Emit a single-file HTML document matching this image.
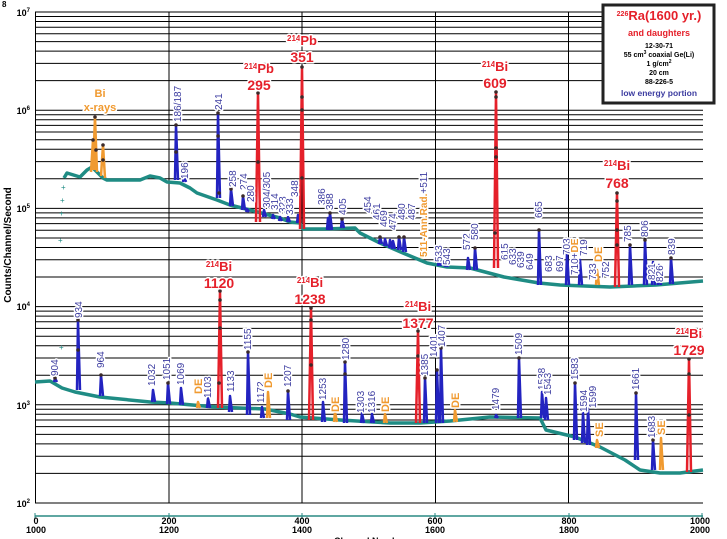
<!DOCTYPE html>
<html><head><meta charset="utf-8"><style>
html,body{margin:0;padding:0;background:#fff;width:727px;height:539px;overflow:hidden}
svg{display:block}
</style></head><body>
<svg width="727" height="539" viewBox="0 0 727 539" xmlns="http://www.w3.org/2000/svg" font-family="Liberation Sans, sans-serif">
<rect width="727" height="539" fill="#fff"/>
<g stroke="#000" stroke-width="1" fill="none">
<path d="M35 503H703M35 473.4H703M35 456.2H703M35 443.9H703M35 434.4H703M35 426.6H703M35 420H703M35 414.3H703M35 409.3H703M35 404.8H703
M35 375.2H703M35 358H703M35 345.7H703M35 336.2H703M35 328.4H703M35 321.8H703M35 316.1H703M35 311.1H703M35 306.6H703
M35 277H703M35 259.8H703M35 247.5H703M35 238H703M35 230.2H703M35 223.6H703M35 217.9H703M35 212.9H703M35 208.4H703
M35 178.8H703M35 161.6H703M35 149.3H703M35 139.8H703M35 132H703M35 125.4H703M35 119.7H703M35 114.7H703M35 110.2H703
M35 80.6H703M35 63.4H703M35 51.1H703M35 41.6H703M35 33.8H703M35 27.2H703M35 21.5H703M35 16.5H703M35 12H703"/>
<path d="M35.5 12V503M169 12V503M302 12V503M435.5 12V503M568.5 12V503"/>
</g>
<line x1="35" y1="516" x2="703" y2="516" stroke="#2a8a84" stroke-width="1.5"/>
<g stroke="#2a8a84" stroke-width="1"><path d="M35 513V519M169 513V519M302 513V519M435 513V519M569 513V519M702 513V519"/></g>
<g font-size="9" font-weight="bold" text-anchor="middle" fill="#000">
<text x="36" y="524">0</text><text x="36" y="533">1000</text>
<text x="169" y="524">200</text><text x="169" y="533">1200</text>
<text x="302" y="524">400</text><text x="302" y="533">1400</text>
<text x="435" y="524">600</text><text x="435" y="533">1600</text>
<text x="569" y="524">800</text><text x="569" y="533">1800</text>
<text x="700" y="524">1000</text><text x="700" y="533">2000</text>
<text x="370" y="544">Channel Number</text>
</g>
<g font-size="9" font-weight="bold" fill="#000" text-anchor="end">
<text x="30" y="16">10<tspan font-size="6" dy="-4">7</tspan></text>
<text x="30" y="114">10<tspan font-size="6" dy="-4">6</tspan></text>
<text x="30" y="212">10<tspan font-size="6" dy="-4">5</tspan></text>
<text x="30" y="310">10<tspan font-size="6" dy="-4">4</tspan></text>
<text x="30" y="409">10<tspan font-size="6" dy="-4">3</tspan></text>
<text x="30" y="507">10<tspan font-size="6" dy="-4">2</tspan></text>
</g>
<text transform="translate(11,245) rotate(-90)" font-size="10" font-weight="bold" text-anchor="middle">Counts/Channel/Second</text>
<text x="2" y="7" font-size="8" font-weight="bold">8</text>

<g fill="none" stroke="#1f8c84" stroke-width="3.5" stroke-linejoin="round">
<polyline points="64,178 67,173 80,177 87,170 92,167 97,172 103,178 107,180 120,180 140,180 150,176 160,178 167,182 180,183 190,188 197,193 217,200 230,205 250,210 280,218 290,222 300,223 303,229 325,229 355,228 360,233 380,243 403,253 427,263 447,267 470,268 504,277 539,283 560,285 610,287 656,285 703,281"/>
<polyline points="35,382 50,381 62,388 75,392 100,397 150,402 170,403 215,407 265,409 290,414 300,417 340,420 390,423 420,423 450,421 490,417 540,418 546,430 575,437 600,447 625,460 640,470 660,473 680,473 703,470"/>
</g>
<g fill="#1f8c84" font-size="8"><text x="58" y="243">+</text><text x="59" y="216">+</text><text x="60" y="203">+</text><text x="61" y="190">+</text><text x="59" y="350">+</text></g>

<g fill="none" stroke-width="2.5" stroke-linejoin="round">
<g stroke="#f09a30">
<path d="M91 172L93 140L95 170M93 170L95 117L97 172M101 176L103 145L105 178M420 258L421 252L423 258M596 285L597 270L599 285"/>
<path d="M197 408L198 402L200 408M267 418L268 392L270 418M334 422L335 412L337 422M384 423L385 414L387 423M454 422L455 410L457 422M596 448L597 440L599 448M660 470L661 438L663 470"/>
</g>
<g stroke="#2323c0">
<path d="M175 180L176 125L178 180M183 182L184 175L186 182M217 198L218 113L220 198M230 206L231 189L233 206M242 210L243 196L245 210M246 212L247 209L249 212M263 217L264 210L266 217M272 219L273 215L275 219M279 221L280 217L282 221M287 222L288 217L290 222M297 223L298 215L300 223M327 230L328 218L330 230M329 230L330 213L332 230M341 228L342 219L344 228"/>
<path d="M379 244L380 237L382 244M384 246L385 239L387 246M389 248L390 240L392 248M392 249L393 241L395 249M398 250L399 237L401 250M403 252L404 237L406 252M438 266L439 255L441 266M445 267L446 259L448 267M467 270L468 258L470 270M474 270L475 248L477 270M538 285L539 230L541 285M566 285L567 253L569 285M579 285L580 260L582 285M629 285L630 245L632 285M644 285L645 240L647 285M652 285L653 262L655 285M658 285L659 265L661 285M670 284L671 258L673 284"/>
<path d="M54 382L55 378L57 382M77 390L78 320L80 390M100 396L101 375L103 396M152 402L153 390L155 402M167 404L168 383L170 404M180 405L181 388L183 405M207 408L208 398L210 408M229 412L230 396L232 412M247 415L248 352L250 415M261 418L262 407L264 418M287 420L288 391L290 420M322 422L323 402L325 422M344 423L345 362L347 423M361 423L362 413L364 423M371 423L372 414L374 423M424 423L425 378L427 423M436 423L437 370L439 423M440 423L441 348L443 423M495 418L496 415L498 418M518 418L519 358L521 418M541 418L542 392L544 418M545 420L546 398L548 420M574 440L575 383L577 440M582 443L583 413L585 443M587 445L588 408L590 445M635 460L636 393L638 460M652 470L653 440L655 470"/>
</g>
<g stroke="#e5202a">
<path d="M256 222L258 93L260 222M300 229L302 67L304 229M494 268L496 92L498 268M615 287L617 193L619 287"/>
<path d="M218 408L220 291L222 408M309 420L311 308L313 420M416 423L418 331L420 423M687 472L689 359L691 472"/>
</g>
</g>
<g fill="#3a2a2a">
<circle cx="95" cy="117" r="1.8"/><circle cx="93" cy="140" r="1.8"/><circle cx="103" cy="145" r="1.8"/><circle cx="96" cy="150" r="1.8"/><circle cx="103" cy="160" r="1.8"/>
<circle cx="176" cy="125" r="1.8"/><circle cx="176" cy="152" r="1.8"/><circle cx="218" cy="113" r="1.8"/><circle cx="218" cy="136" r="1.8"/><circle cx="219" cy="193" r="1.8"/>
<circle cx="258" cy="93" r="1.8"/><circle cx="258" cy="162" r="1.8"/><circle cx="302" cy="67" r="1.8"/><circle cx="302" cy="97" r="1.8"/><circle cx="302" cy="110" r="1.8"/><circle cx="302" cy="178" r="1.8"/>
<circle cx="496" cy="92" r="1.8"/><circle cx="496" cy="97" r="1.8"/><circle cx="496" cy="148" r="1.8"/><circle cx="496" cy="157" r="1.8"/><circle cx="495" cy="233" r="1.8"/>
<circle cx="617" cy="193" r="1.8"/><circle cx="617" cy="201" r="1.8"/><circle cx="617" cy="230" r="1.8"/><circle cx="617" cy="245" r="1.8"/>
<circle cx="231" cy="189" r="1.8"/><circle cx="243" cy="196" r="1.8"/><circle cx="330" cy="213" r="1.8"/><circle cx="342" cy="219" r="1.8"/><circle cx="539" cy="230" r="1.8"/><circle cx="630" cy="245" r="1.8"/><circle cx="645" cy="240" r="1.8"/><circle cx="671" cy="258" r="1.8"/><circle cx="475" cy="248" r="1.8"/><circle cx="399" cy="237" r="1.8"/><circle cx="404" cy="237" r="1.8"/><circle cx="380" cy="237" r="1.8"/>
<circle cx="78" cy="320" r="1.8"/><circle cx="78" cy="350" r="1.8"/><circle cx="101" cy="375" r="1.8"/><circle cx="220" cy="291" r="1.8"/><circle cx="220" cy="300" r="1.8"/><circle cx="220" cy="328" r="1.8"/><circle cx="219" cy="383" r="1.8"/>
<circle cx="248" cy="352" r="1.8"/><circle cx="311" cy="308" r="1.8"/><circle cx="311" cy="320" r="1.8"/><circle cx="311" cy="365" r="1.8"/><circle cx="345" cy="362" r="1.8"/><circle cx="345" cy="374" r="1.8"/>
<circle cx="418" cy="331" r="1.8"/><circle cx="418" cy="356" r="1.8"/><circle cx="441" cy="348" r="1.8"/><circle cx="437" cy="370" r="1.8"/><circle cx="425" cy="378" r="1.8"/><circle cx="519" cy="358" r="1.8"/><circle cx="575" cy="383" r="1.8"/><circle cx="636" cy="393" r="1.8"/><circle cx="653" cy="440" r="1.8"/>
<circle cx="689" cy="359" r="1.8"/><circle cx="689" cy="374" r="1.8"/><circle cx="689" cy="415" r="1.8"/><circle cx="55" cy="378" r="1.8"/><circle cx="168" cy="383" r="1.8"/><circle cx="288" cy="391" r="1.8"/>
</g>

<g paint-order="stroke" stroke="#fff" stroke-width="3" stroke-linejoin="round">
<g font-size="10" fill="#3c3ca0">
<text transform="translate(181,122) rotate(-90)">186/187</text>
<text transform="translate(188,179) rotate(-90)">196</text>
<text transform="translate(222,110) rotate(-90)">241</text>
<text transform="translate(236,187) rotate(-90)">258</text>
<text transform="translate(247,190) rotate(-90)">274</text>
<text transform="translate(254,202) rotate(-90)">280</text>
<text transform="translate(270,208) rotate(-90)">304/305</text>
<text transform="translate(278,210) rotate(-90)">314</text>
<text transform="translate(286,213) rotate(-90)">323</text>
<text transform="translate(293,215) rotate(-90)">333</text>
<text transform="translate(298,197) rotate(-90)">348</text>
<text transform="translate(325,205) rotate(-90)">386</text>
<text transform="translate(333,210) rotate(-90)">388</text>
<text transform="translate(346,215) rotate(-90)">405</text>
<text transform="translate(371,213) rotate(-90)">454</text>
<text transform="translate(380,220) rotate(-90)">461</text>
<text transform="translate(387,227) rotate(-90)">469</text>
<text transform="translate(396,230) rotate(-90)">474</text>
<text transform="translate(405,220) rotate(-90)">480</text>
<text transform="translate(415,220) rotate(-90)">487</text>
<text transform="translate(427,257) rotate(-90)"><tspan fill="#f09a30" font-weight="bold">511-Ann.Rad.</tspan><tspan>+511</tspan></text>
<text transform="translate(442,262) rotate(-90)">533</text>
<text transform="translate(450,265) rotate(-90)">543</text>
<text transform="translate(470,250) rotate(-90)">572</text>
<text transform="translate(478,240) rotate(-90)">580</text>
<text transform="translate(508,260) rotate(-90)">615</text>
<text transform="translate(516,265) rotate(-90)">633</text>
<text transform="translate(524,268) rotate(-90)">639</text>
<text transform="translate(533,270) rotate(-90)">649</text>
<text transform="translate(542,218) rotate(-90)">665</text>
<text transform="translate(552,272) rotate(-90)">683</text>
<text transform="translate(563,272) rotate(-90)">697</text>
<text transform="translate(570,255) rotate(-90)">703</text>
<text transform="translate(578,275) rotate(-90)">710+<tspan fill="#f09a30" font-weight="bold">DE</tspan></text>
<text transform="translate(587,256) rotate(-90)">719</text>
<text transform="translate(596,280) rotate(-90)">733</text>
<text transform="translate(609,278) rotate(-90)">752</text>
<text transform="translate(631,242) rotate(-90)">785</text>
<text transform="translate(648,237) rotate(-90)">806</text>
<text transform="translate(655,280) rotate(-90)">821</text>
<text transform="translate(663,282) rotate(-90)">826</text>
<text transform="translate(675,255) rotate(-90)">839</text>

<text transform="translate(58,376) rotate(-90)">904</text>
<text transform="translate(82,318) rotate(-90)">934</text>
<text transform="translate(104,368) rotate(-90)">964</text>
<text transform="translate(155,386) rotate(-90)">1032</text>
<text transform="translate(170,380) rotate(-90)">1051</text>
<text transform="translate(184,385) rotate(-90)">1069</text>
<text transform="translate(211,398) rotate(-90)">1103</text>
<text transform="translate(234,392) rotate(-90)">1133</text>
<text transform="translate(251,350) rotate(-90)">1155</text>
<text transform="translate(264,403) rotate(-90)">1172</text>
<text transform="translate(291,387) rotate(-90)">1207</text>
<text transform="translate(326,400) rotate(-90)">1253</text>
<text transform="translate(349,360) rotate(-90)">1280</text>
<text transform="translate(364,413) rotate(-90)">1303</text>
<text transform="translate(375,413) rotate(-90)">1316</text>
<text transform="translate(428,376) rotate(-90)">1385</text>
<text transform="translate(437,357) rotate(-90)">1401</text>
<text transform="translate(445,347) rotate(-90)">1407</text>
<text transform="translate(499,410) rotate(-90)">1479</text>
<text transform="translate(522,355) rotate(-90)">1509</text>
<text transform="translate(545,390) rotate(-90)">1538</text>
<text transform="translate(551,395) rotate(-90)">1543</text>
<text transform="translate(578,380) rotate(-90)">1583</text>
<text transform="translate(587,412) rotate(-90)">1594</text>
<text transform="translate(596,408) rotate(-90)">1599</text>
<text transform="translate(639,390) rotate(-90)">1661</text>
<text transform="translate(655,438) rotate(-90)">1683</text>
</g>
<g font-size="11" font-weight="bold" fill="#f09a30">
<text transform="translate(602,262) rotate(-90)">DE</text>
<text transform="translate(202,394) rotate(-90)">DE</text>
<text transform="translate(272,388) rotate(-90)">DE</text>
<text transform="translate(339,412) rotate(-90)">DE</text>
<text transform="translate(389,412) rotate(-90)">DE</text>
<text transform="translate(459,408) rotate(-90)">DE</text>
<text transform="translate(603,437) rotate(-90)">SE</text>
<text transform="translate(665,435) rotate(-90)">SE</text>
<text x="100" y="97" text-anchor="middle">Bi</text>
<text x="100" y="111" text-anchor="middle">x-rays</text>
</g>
<g font-weight="bold" fill="#e5202a" text-anchor="middle">
<text x="259" y="73" font-size="13"><tspan font-size="8" dy="-4">214</tspan><tspan dy="4">Pb</tspan></text>
<text x="259" y="90" font-size="14">295</text>
<text x="302" y="45" font-size="13"><tspan font-size="8" dy="-4">214</tspan><tspan dy="4">Pb</tspan></text>
<text x="302" y="62" font-size="14">351</text>
<text x="495" y="71" font-size="13"><tspan font-size="8" dy="-4">214</tspan><tspan dy="4">Bi</tspan></text>
<text x="495" y="88" font-size="14">609</text>
<text x="617" y="170" font-size="13"><tspan font-size="8" dy="-4">214</tspan><tspan dy="4">Bi</tspan></text>
<text x="617" y="188" font-size="14">768</text>
<text x="219" y="271" font-size="13"><tspan font-size="8" dy="-4">214</tspan><tspan dy="4">Bi</tspan></text>
<text x="219" y="288" font-size="14">1120</text>
<text x="310" y="287" font-size="13"><tspan font-size="8" dy="-4">214</tspan><tspan dy="4">Bi</tspan></text>
<text x="310" y="304" font-size="14">1238</text>
<text x="418" y="311" font-size="13"><tspan font-size="8" dy="-4">214</tspan><tspan dy="4">Bi</tspan></text>
<text x="418" y="328" font-size="14">1377</text>
<text x="689" y="338" font-size="13"><tspan font-size="8" dy="-4">214</tspan><tspan dy="4">Bi</tspan></text>
<text x="689" y="355" font-size="14">1729</text>
</g>
</g>

<rect x="603" y="5" width="111" height="98" fill="#fff" stroke="#222" stroke-width="3"/>
<g text-anchor="middle" font-weight="bold">
<text x="659" y="20" font-size="13" fill="#e5202a"><tspan font-size="7" dy="-4">226</tspan><tspan dy="4">Ra(1600 yr.)</tspan></text>
<text x="659" y="36" font-size="9" fill="#e5202a">and daughters</text>
<text x="659" y="48" font-size="7" fill="#000">12-30-71</text>
<text x="659" y="57" font-size="7" fill="#000">55 cm<tspan font-size="5" dy="-3">3</tspan><tspan dy="3"> coaxial Ge(Li)</tspan></text>
<text x="659" y="66" font-size="7" fill="#000">1 g/cm<tspan font-size="5" dy="-3">2</tspan></text>
<text x="659" y="75" font-size="7" fill="#000">20 cm</text>
<text x="659" y="84" font-size="7" fill="#000">88-226-5</text>
<text x="659" y="96" font-size="8.5" fill="#3c3ca0">low energy portion</text>
</g>
</svg>
</body></html>
